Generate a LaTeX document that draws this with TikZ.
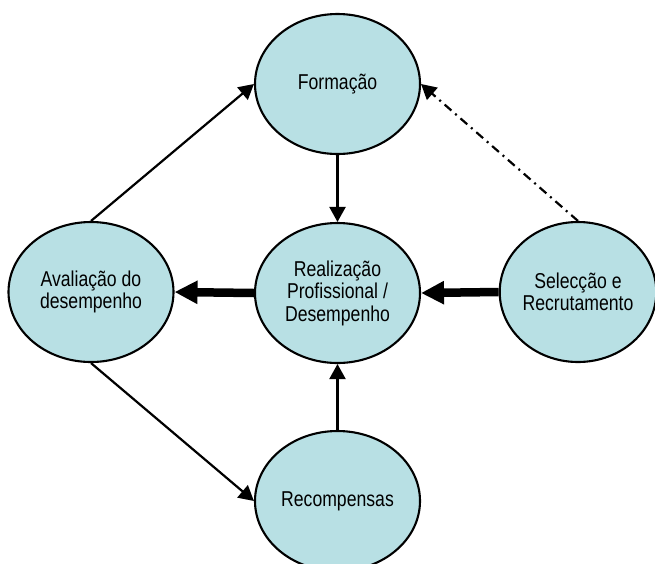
\documentclass[tikz,border=0pt]{standalone}
\usepackage{fontspec}
\newfontfamily\labfont{Liberation Sans}[FakeStretch=0.82]
\usetikzlibrary{shapes.geometric,arrows.meta}
\definecolor{bubble}{RGB}{184,224,228}
\tikzset{
  bub/.style={ellipse, draw=black, line width=2.1pt, fill=bubble, inner sep=0pt,
    minimum width=165pt, minimum height=140pt, align=center,
    font=\labfont\fontsize{21.5}{22.5}\selectfont},
  thin/.style={line width=2.2pt, -{Triangle[length=15pt,width=16pt]}},
  thick/.style={line width=8.5pt, -{Triangle[length=23pt,width=22pt]}},
  dashdot/.style={line width=2.2pt, dash pattern=on 9pt off 5pt on 2pt off 5pt,
    -{Triangle[length=15pt,width=16pt]}}
}
\begin{document}
\begin{tikzpicture}[x=1pt,y=-1pt]
\useasboundingbox (0,0) rectangle (655,563);
\node[bub] (form) at (337.5,84) {Formação};
\node[bub] (real) at (337.5,293) {Realização\\Profissional /\\Desempenho};
\node[bub] (aval) at (91,292) {Avaliação do\\desempenho};
\node[bub, minimum width=154pt] (sel) at (578,292) {Selecção e\\Recrutamento};
\node[bub] (rec) at (337.5,501) {\raisebox{-10pt}{Recompensas}};
\draw[thin] (form.south) -- (real.north);
\draw[thin] (rec.north) -- (real.south);
\draw[thick] (real.west) -- (aval.east);
\draw[thick] (sel.west) -- (real.east);
\draw[thin] (aval.north) -- (form.west);
\draw[thin] (aval.south) -- (rec.west);
\draw[dashdot] (sel.north) -- (form.east);
\end{tikzpicture}
\end{document}
